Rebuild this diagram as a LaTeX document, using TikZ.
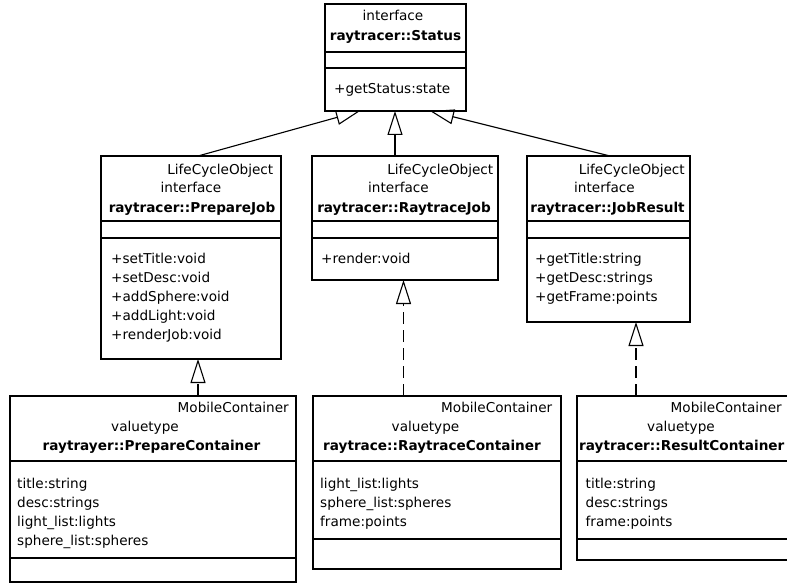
\documentclass[tikz,border=0pt]{standalone}
\usepackage{fontspec}
\setmainfont{DejaVu Sans}
\usetikzlibrary{arrows.meta}
\tikzset{
  box/.style={draw, rectangle, inner sep=0pt, outer sep=0pt, line width=1.1pt},
  sep/.style={line width=1.1pt},
  txt/.style={inner sep=0pt, anchor=base, font=\fontsize{13.6}{16}\selectfont},
  txtw/.style={txt, anchor=base west},
  txte/.style={txt, anchor=base east},
  bld/.style={txt, font=\fontsize{13.6}{16}\selectfont\bfseries},
  bldw/.style={bld, anchor=base west},
  inh/.style={line width=1.1pt, -{Triangle[open, length=24pt, width=15pt]}},
  real/.style={inh, dash pattern=on 12pt off 6pt}
}
\begin{document}
\begin{tikzpicture}[x=1pt, y=-1pt]
\useasboundingbox (0,0) rectangle (787,583);
\clip (0,0) rectangle (787,583);
\fill[white] (0,0) rectangle (787,583);

% ---- Status ----
\node[box, minimum width=141pt, minimum height=107pt] (status) at (395.5,57.5) {};
\draw[sep] (status.west |- 0,52) -- (status.east |- 0,52);
\draw[sep] (status.west |- 0,68) -- (status.east |- 0,68);
\node[txt] (st1) at (393,21) {interface};
\node[bld] (st2) at (395.5,41) {raytracer::Status};
\node[txtw] (st3) at (334,94) {+getStatus:state};

% ---- PrepareJob ----
\node[box, minimum width=180pt, minimum height=203pt] (pj) at (191,257.5) {};
\draw[sep] (pj.west |- 0,221) -- (pj.east |- 0,221);
\draw[sep] (pj.west |- 0,238) -- (pj.east |- 0,238);
\node[txte] (pj1) at (273.5,175) {LifeCycleObject};
\node[txt] (pj2) at (191,193) {interface};
\node[bld] (pj3) at (192,212) {raytracer::PrepareJob};
\node[txtw] (pjm1) at (111,263) {+setTitle:void};
\node[txtw] (pjm2) at (111,282) {+setDesc:void};
\node[txtw] (pjm3) at (111,301) {+addSphere:void};
\node[txtw] (pjm4) at (111,320) {+addLight:void};
\node[txtw] (pjm5) at (111,339) {+renderJob:void};

% ---- RaytraceJob ----
\node[box, minimum width=186pt, minimum height=124pt] (rj) at (405,218) {};
\draw[sep] (rj.west |- 0,221) -- (rj.east |- 0,221);
\draw[sep] (rj.west |- 0,238) -- (rj.east |- 0,238);
\node[txte] (rj1) at (493.5,175) {LifeCycleObject};
\node[txt] (rj2) at (398.5,193) {interface};
\node[bld] (rj3) at (404,212) {raytracer::RaytraceJob};
\node[txtw] (rjm1) at (321,263) {+render:void};

% ---- JobResult ----
\node[box, minimum width=163pt, minimum height=166pt] (jr) at (608.5,239) {};
\draw[sep] (jr.west |- 0,221) -- (jr.east |- 0,221);
\draw[sep] (jr.west |- 0,238) -- (jr.east |- 0,238);
\node[txte] (jr1) at (685,175) {LifeCycleObject};
\node[txt] (jr2) at (604.5,193) {interface};
\node[bld] (jr3) at (607.5,212) {raytracer::JobResult};
\node[txtw] (jrm1) at (535,263) {+getTitle:string};
\node[txtw] (jrm2) at (535,282) {+getDesc:strings};
\node[txtw] (jrm3) at (535,301) {+getFrame:points};

% ---- PrepareContainer ----
\node[box, minimum width=286pt, minimum height=186pt] (pc) at (153,489) {};
\draw[sep] (pc.west |- 0,461) -- (pc.east |- 0,461);
\draw[sep] (pc.west |- 0,558) -- (pc.east |- 0,558);
\node[txte] (pc1) at (289,412) {MobileContainer};
\node[txt] (pc2) at (145,431) {valuetype};
\node[bld] (pc3) at (151.5,450) {raytrayer::PrepareContainer};
\node[txtw] (pca1) at (17,488) {title:string};
\node[txtw] (pca2) at (17,507) {desc:strings};
\node[txtw] (pca3) at (17,526) {light\_list:lights};
\node[txtw] (pca4) at (17,545) {sphere\_list:spheres};

% ---- RaytraceContainer ----
\node[box, minimum width=248pt, minimum height=173pt] (rc) at (437,482.5) {};
\draw[sep] (rc.west |- 0,461) -- (rc.east |- 0,461);
\draw[sep] (rc.west |- 0,539) -- (rc.east |- 0,539);
\node[txte] (rc1) at (552.5,412) {MobileContainer};
\node[txt] (rc2) at (425.5,431) {valuetype};
\node[bld] (rc3) at (432,450) {raytrace::RaytraceContainer};
\node[txtw] (rca1) at (320,488) {light\_list:lights};
\node[txtw] (rca2) at (320,507) {sphere\_list:spheres};
\node[txtw] (rca3) at (320,526) {frame:points};

% ---- ResultContainer ----
\node[box, minimum width=223pt, minimum height=164pt] (rs) at (688.5,478) {};
\draw[sep] (rs.west |- 0,461) -- (rs.east |- 0,461);
\draw[sep] (rs.west |- 0,539) -- (rs.east |- 0,539);
\node[txte] (rs1) at (782,412) {MobileContainer};
\node[txt] (rs2) at (681,431) {valuetype};
\node[bldw] (rs3) at (579,450) {raytracer::ResultContainer};
\node[txtw] (rsa1) at (585.5,488) {title:string};
\node[txtw] (rsa2) at (585.5,507) {desc:strings};
\node[txtw] (rsa3) at (585.5,526) {frame:points};

% ---- connectors ----
\draw[inh] (pj.north -| 198,0) -- (status.south -| 360,0);
\draw[inh] (rj.north -| 395,0) -- (status.south -| 395,0);
\draw[inh] (jr.north -| 610,0) -- (status.south -| 430,0);
\draw[real] (pc.north -| 198,0) -- (pj.south -| 198,0);
\draw[real] (rc.north -| 403.5,0) -- (rj.south -| 403.5,0);
\draw[real] (rs.north -| 636,0) -- (jr.south -| 636,0);
\end{tikzpicture}
\end{document}
